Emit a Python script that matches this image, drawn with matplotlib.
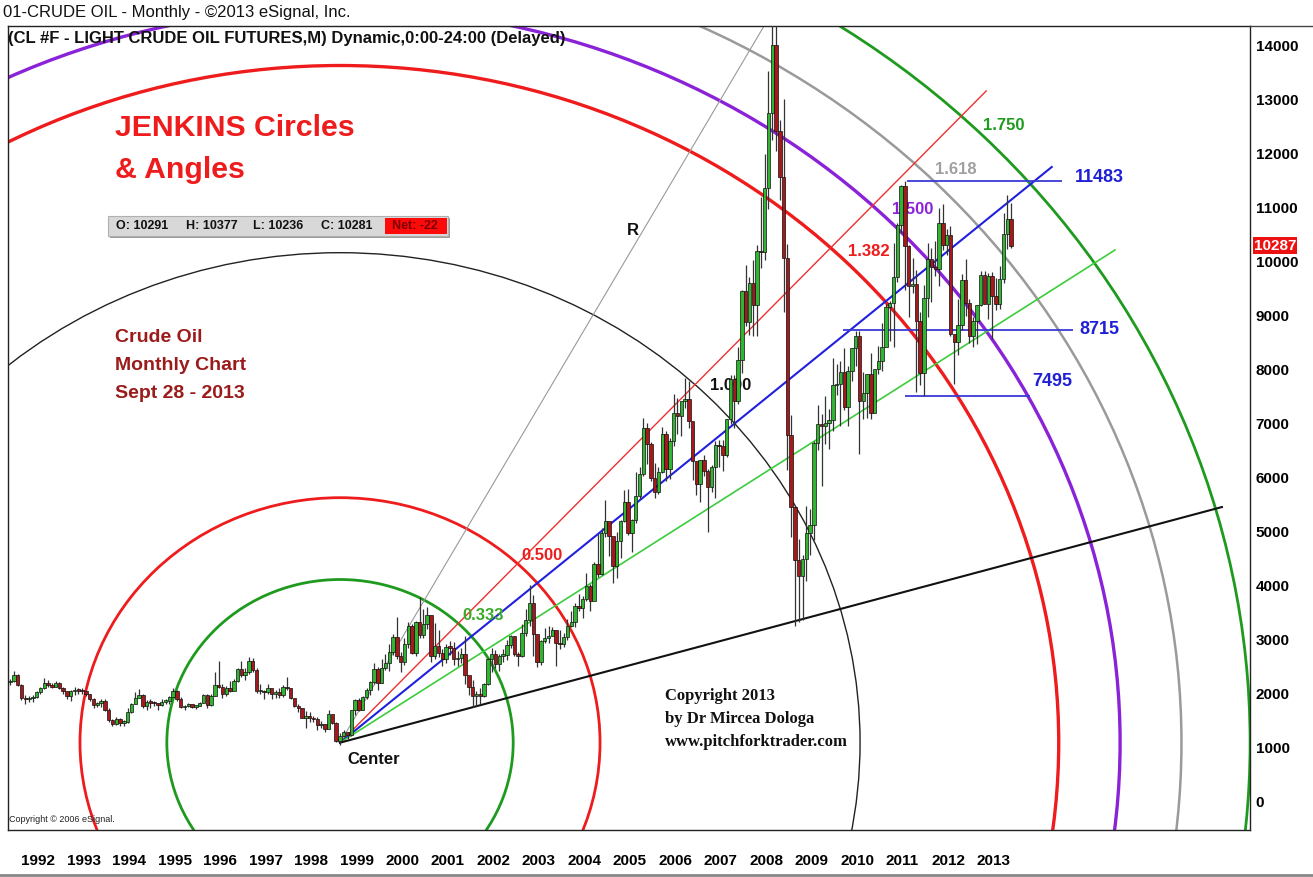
import matplotlib
matplotlib.use('Agg')
import matplotlib.pyplot as plt
from matplotlib.patches import Ellipse, Rectangle
from matplotlib.lines import Line2D
import matplotlib.transforms as mtransforms
import numpy as np

plt.rcParams['font.family'] = ['Liberation Sans', 'DejaVu Sans']

# ---- monthly CL continuous, Aug 1991 .. Sep 2013 (dollars) ----
first_year, first_month = 1991, 8
first_open = 21.6
closes = [
    22.0, 22.2, 23.3, 21.5, 19.1,                                        # 1991
    18.9, 19.0, 19.2, 20.2, 20.9, 21.8, 21.4, 21.2, 21.9, 21.0, 20.4, 19.5,  # 1992
    20.3, 20.6, 20.4, 20.3, 19.9, 18.9, 17.7, 18.1, 18.6, 16.9, 15.0, 14.2,  # 1993
    15.2, 14.5, 14.7, 16.4, 17.9, 19.1, 19.7, 17.6, 18.4, 18.2, 18.1, 17.8,  # 1994
    18.4, 18.5, 19.2, 20.4, 18.9, 17.4, 17.6, 18.0, 17.5, 17.6, 18.2, 19.6,  # 1995
    17.7, 19.5, 21.5, 21.2, 19.8, 20.9, 20.4, 22.3, 24.4, 23.4, 23.8, 25.9,  # 1996
    24.2, 20.3, 20.4, 20.2, 20.9, 19.8, 20.1, 19.6, 21.2, 20.9, 19.1, 17.6,  # 1997
    17.2, 15.4, 15.6, 15.4, 15.2, 14.0, 14.2, 13.4, 16.1, 14.4, 11.2, 12.1,  # 1998
    12.7, 12.3, 16.8, 18.7, 16.8, 19.3, 20.5, 22.1, 24.5, 21.8, 24.6, 25.6,  # 1999
    27.6, 30.4, 26.9, 25.7, 29.0, 32.5, 27.4, 33.1, 30.8, 32.7, 34.4, 26.8,  # 2000
    28.7, 27.4, 26.3, 28.5, 28.4, 26.3, 26.4, 27.2, 23.4, 21.2, 19.4, 19.8,  # 2001
    19.5, 21.7, 26.3, 27.3, 25.3, 26.9, 27.0, 28.9, 30.5, 27.2, 26.9, 31.2,  # 2002
    33.5, 36.6, 31.0, 25.8, 29.6, 30.2, 30.5, 31.6, 29.2, 29.1, 30.4, 32.5,  # 2003
    33.1, 36.2, 35.8, 37.4, 39.9, 37.1, 43.8, 42.1, 49.6, 51.8, 49.1, 43.5,  # 2004
    48.2, 51.8, 55.4, 49.7, 52.0, 56.5, 60.6, 69.0, 66.2, 59.8, 57.3, 61.0,  # 2005
    67.9, 61.4, 66.6, 71.9, 71.3, 74.0, 74.4, 70.3, 62.9, 58.7, 63.1, 61.1,  # 2006
    58.1, 61.8, 65.9, 65.7, 64.0, 70.7, 78.2, 74.0, 81.7, 94.5, 88.7, 96.0,  # 2007
    91.8, 101.8, 101.6, 113.5, 127.4, 140.0, 124.1, 115.5, 100.6, 67.8, 54.4, 44.6,  # 2008
    41.7, 44.8, 49.7, 51.1, 66.3, 69.9, 69.5, 70.0, 70.6, 77.0, 77.3, 79.4,  # 2009
    72.9, 79.7, 83.8, 86.2, 74.0, 75.6, 79.0, 71.9, 80.0, 81.4, 84.1, 91.4,  # 2010
    92.2, 97.0, 106.7, 113.9, 102.7, 95.4, 95.7, 88.8, 79.2, 93.2, 100.4, 98.8,  # 2011
    98.5, 107.1, 103.0, 104.9, 86.5, 85.0, 88.1, 96.5, 92.2, 86.2, 88.9, 91.8,  # 2012
    97.5, 92.1, 97.2, 93.5, 92.0, 96.6, 105.0, 107.7, 102.87,                # 2013
]
highs = [
    22.5, 22.6, 24.0, 23.5, 21.6,
    19.6, 19.5, 19.6, 20.4, 21.1, 22.7, 22.4, 21.8, 22.3, 22.0, 21.2, 20.0,
    20.5, 21.2, 20.9, 20.9, 20.3, 19.9, 19.1, 18.4, 18.9, 18.8, 17.2, 15.1,
    15.6, 15.4, 15.0, 17.2, 18.2, 20.1, 20.7, 19.9, 18.7, 18.9, 18.6, 18.1,
    18.9, 18.8, 19.4, 20.9, 20.5, 19.3, 17.7, 18.1, 18.0, 17.7, 18.4, 19.9,
    19.8, 19.8, 23.8, 25.9, 21.7, 21.3, 22.2, 22.6, 24.6, 25.9, 24.7, 26.6,
    26.5, 24.7, 21.6, 20.6, 21.7, 20.6, 20.5, 20.9, 21.4, 23.0, 21.0, 19.1,
    18.0, 17.2, 16.7, 16.4, 15.8, 15.5, 14.9, 14.3, 16.9, 16.1, 14.6, 12.6,
    13.1, 12.8, 16.9, 18.9, 19.0, 19.4, 21.0, 22.3, 25.6, 24.8, 26.3, 27.2,
    29.0, 31.0, 34.1, 27.6, 30.1, 33.1, 32.8, 33.4, 37.8, 35.6, 36.0, 34.4,
    33.0, 31.6, 28.1, 29.0, 29.6, 29.4, 27.7, 28.4, 30.5, 23.0, 22.5, 20.4,
    21.0, 21.9, 26.4, 28.4, 28.0, 27.2, 28.2, 29.9, 30.8, 30.6, 27.6, 32.7,
    35.6, 39.99, 38.1, 31.0, 29.9, 32.0, 32.4, 32.3, 31.6, 31.7, 31.2, 33.7,
    35.2, 36.6, 38.4, 38.0, 42.3, 40.2, 44.2, 49.4, 50.5, 55.7, 50.5, 46.3,
    49.9, 52.1, 57.6, 57.7, 52.2, 60.9, 61.9, 70.9, 70.0, 66.4, 62.6, 61.8,
    69.2, 68.6, 67.2, 75.4, 74.6, 74.0, 78.4, 77.8, 70.0, 62.9, 63.2, 64.0,
    61.5, 62.2, 66.7, 66.9, 66.8, 70.8, 78.8, 78.8, 84.1, 94.7, 99.3, 97.0,
    100.1, 103.0, 111.8, 119.9, 135.1, 143.7, 147.3, 126.2, 130.0, 103.1, 71.4, 54.6,
    48.6, 45.5, 54.7, 54.0, 66.7, 73.4, 71.6, 75.0, 72.6, 82.0, 81.0, 81.4,
    83.9, 80.5, 83.9, 87.1, 87.0, 79.5, 79.1, 82.9, 80.0, 84.2, 88.6, 92.0,
    92.6, 103.4, 107.0, 114.0, 114.8, 103.0, 100.6, 98.4, 90.5, 95.5, 103.4, 102.4,
    103.7, 109.8, 110.6, 106.0, 106.4, 85.9, 92.9, 97.6, 100.4, 93.0, 89.7, 91.8,
    98.2, 98.2, 97.8, 97.9, 96.9, 99.0, 108.9, 112.2, 110.7,
]
lows = [
    20.9, 21.4, 22.0, 21.3, 18.7,
    17.9, 18.3, 18.4, 19.0, 19.9, 20.8, 21.2, 20.9, 21.1, 20.7, 19.9, 18.9,
    18.5, 19.6, 19.9, 19.9, 19.5, 18.6, 17.2, 17.4, 17.5, 16.6, 14.7, 13.9,
    14.1, 13.9, 13.9, 14.5, 16.3, 17.9, 19.2, 17.2, 16.9, 17.3, 17.6, 16.9,
    17.6, 18.0, 17.9, 19.2, 18.6, 17.2, 16.9, 17.4, 17.3, 17.1, 17.6, 18.2,
    17.2, 17.6, 19.5, 20.9, 19.1, 19.4, 20.2, 20.5, 22.0, 23.0, 22.5, 23.5,
    23.9, 20.0, 19.9, 18.9, 19.8, 18.8, 19.1, 19.1, 19.3, 20.6, 18.9, 17.4,
    16.4, 15.3, 13.5, 14.7, 14.6, 13.2, 13.5, 12.8, 13.3, 14.2, 11.0, 10.4,
    11.9, 11.4, 12.1, 15.9, 16.7, 16.8, 18.8, 19.6, 21.6, 20.6, 21.8, 24.2,
    24.0, 27.1, 26.3, 23.9, 25.2, 28.3, 27.2, 26.9, 30.1, 30.1, 31.9, 25.7,
    26.3, 26.6, 25.0, 25.6, 27.1, 25.2, 25.0, 25.6, 21.7, 19.6, 17.5, 17.6,
    17.9, 19.3, 21.4, 23.8, 24.7, 24.0, 25.7, 26.1, 28.3, 26.8, 25.0, 26.6,
    30.5, 32.5, 26.9, 24.9, 25.1, 29.2, 29.2, 30.6, 25.0, 28.2, 28.6, 29.8,
    32.2, 32.3, 35.1, 33.9, 37.1, 35.1, 37.6, 41.5, 41.9, 48.9, 45.3, 40.3,
    41.3, 45.0, 51.6, 49.3, 46.2, 51.5, 55.9, 60.1, 62.4, 59.3, 56.1, 56.8,
    60.8, 59.2, 59.6, 65.8, 68.0, 67.6, 72.7, 69.1, 59.5, 56.6, 55.3, 60.1,
    49.9, 57.2, 56.1, 61.9, 61.2, 63.7, 69.8, 69.1, 73.5, 79.2, 88.0, 86.3,
    86.1, 86.1, 98.7, 100.1, 109.6, 122.5, 120.4, 111.3, 90.5, 61.3, 48.8, 32.4,
    33.2, 33.6, 40.8, 45.6, 48.3, 65.0, 58.3, 66.2, 65.1, 68.6, 75.2, 69.5,
    72.4, 69.5, 77.8, 80.6, 64.2, 70.8, 71.0, 70.8, 72.6, 79.1, 79.6, 84.8,
    85.1, 84.1, 96.2, 105.2, 94.6, 89.7, 94.0, 75.7, 77.1, 75.0, 89.7, 92.5,
    97.3, 95.4, 102.1, 101.1, 86.2, 77.3, 82.6, 87.2, 89.9, 84.8, 84.1, 84.7,
    91.7, 92.0, 89.3, 85.6, 91.0, 91.1, 96.0, 102.2, 102.4,
]

# Jenkins construction (center at Dec 1998 low)
center_t, center_v = 1998.917, 1080
radius_t, radius_v = 11.43, 9074          # R in years / price units
circle_ratios = [0.333, 0.5, 1.0, 1.382, 1.5, 1.618, 1.75]
circle_colors = ['#1e9a1e', '#ee1c1c', '#222222', '#ee1c1c', '#8a22d8', '#9a9a9a', '#1e9a1e']
circle_widths = [2.0, 2.0, 1.0, 2.4, 2.4, 1.8, 2.0]

angle_end_t = [2008.5, 2013.12, 2014.56, 2015.95, 2018.3]
angle_end_v = [14727, 13150, 11741, 10204, 5444]
angle_colors = ['#999999', '#ee3030', '#2020dd', '#3ccc3c', '#111111']
angle_widths = [0.8, 1.0, 1.5, 1.2, 1.5]

levels = [11483, 8715, 7495]
level_t0 = [2011.38, 2009.97, 2011.33]
level_t1 = [2014.78, 2015.03, 2014.08]

last_price = 10287
year_labels = list(range(1992, 2014))

# ---- build candles ----
n = len(closes)
t = np.array([first_year + (first_month - 1 + i) / 12.0 for i in range(n)])
c = np.array(closes) * 100
h = np.array(highs) * 100
l = np.array(lows) * 100
o = np.concatenate([[first_open * 100], c[:-1]])

W, H = 1313, 877
fig = plt.figure(figsize=(W / 100, H / 100), dpi=100)
fig.patch.set_facecolor('white')

def P(px, py):
    return (px / W, 1 - py / H)

ax = fig.add_axes([8 / W, 47 / H, 1242 / W, 804 / H])
ax.set_xlim(1991.62, 2018.917)
ax.set_ylim(-537, 14352)

# circles
for r, col, lw in zip(circle_ratios, circle_colors, circle_widths):
    ax.add_patch(Ellipse((center_t, center_v), 2 * r * radius_t, 2 * r * radius_v,
                         fill=False, ec=col, lw=lw, zorder=2))

# angles
for te, ve, col, lw in zip(angle_end_t, angle_end_v, angle_colors, angle_widths):
    ax.plot([center_t, te], [center_v, ve], color=col, lw=lw, zorder=2)

# horizontal levels
ax.hlines(levels, level_t0, level_t1, color='#3a3ad6', lw=1.3, zorder=2)

# candles
ax.vlines(t, l, h, color='#333333', lw=0.9, zorder=3)
up = c >= o
body_bot = np.minimum(o, c)
body_h = np.maximum(np.abs(c - o), 25)
ax.bar(t[up], body_h[up], bottom=body_bot[up], width=0.075, color='#2fb52f',
       edgecolor='#111111', linewidth=0.5, zorder=4)
ax.bar(t[~up], body_h[~up], bottom=body_bot[~up], width=0.075, color='#a5181c',
       edgecolor='#111111', linewidth=0.5, zorder=4)

# axes styling
for s in ax.spines.values():
    s.set_color('#222222')
    s.set_linewidth(1.0)
ax.yaxis.tick_right()
ax.set_yticks(range(0, 14001, 1000))
ax.set_yticklabels([str(v) for v in range(0, 14001, 1000)], fontsize=11, fontweight='bold')
ax.tick_params(axis='y', length=0, pad=4)
ax.set_xticks([y + 0.28 for y in year_labels])
ax.set_xticklabels([str(y) for y in year_labels], fontsize=11, fontweight='bold')
ax.tick_params(axis='x', length=0, pad=17)

# last price tag
trans = mtransforms.blended_transform_factory(ax.transAxes, ax.transData)
ax.text(1.003, last_price, str(last_price), transform=trans, ha='left', va='center',
        fontsize=11, fontweight='bold', color='white', zorder=6, clip_on=False,
        bbox=dict(boxstyle='square,pad=0.08', fc='#ee1111', ec='none'))

# level / ratio labels
def lab(px, py, s, col, size=12, ha='left'):
    ax.text(*P(px, py), s, transform=fig.transFigure, color=col, fontsize=size,
            fontweight='bold', ha=ha, va='center', zorder=3.5)

lab(983, 125, '1.750', '#1e9a1e')
lab(935, 170, '1.618', '#a0a0a0')
lab(892, 210, '1.500', '#8a22d8')
lab(848, 251, '1.382', '#ee1c1c')
lab(710, 385, '1.000', '#111111')
lab(521, 555, '0.500', '#ee1c1c')
lab(462, 615, '0.333', '#3aaa2a')
lab(1075, 178, '11483', '#1f1fd6', 13)
lab(1079, 330, '8715', '#1f1fd6', 13)
lab(1032, 382, '7495', '#1f1fd6', 13)
lab(627, 230, 'R', '#111111', 12)
lab(347, 760, 'Center', '#111111', 12)

# big headline
fig.text(*P(115, 128), 'JENKINS Circles', color='#ee1c1c', fontsize=21.8, fontweight='bold', va='center')
fig.text(*P(115, 170), '& Angles', color='#ee1c1c', fontsize=21.8, fontweight='bold', va='center')
for yy, s in zip([337, 365, 393], ['Crude Oil', 'Monthly Chart', 'Sept 28 - 2013']):
    fig.text(*P(115, yy), s, color='#9b1b1b', fontsize=14, fontweight='bold', va='center')

# copyright block
for yy, s in zip([696, 719, 742], ['Copyright 2013', 'by Dr Mircea Dologa', 'www.pitchforktrader.com']):
    fig.text(*P(665, yy), s, family='Liberation Serif', color='#111111', fontsize=12,
             fontweight='bold', va='center')
fig.text(*P(9, 820), 'Copyright \u00a9 2006 eSignal.', fontsize=6.5, color='#222222', va='center')

# OHLC box
fig.patches.append(Rectangle(P(110, 238), 340 / W, 20 / H, transform=fig.transFigure,
                             fc='#9a9a9a', ec='none', zorder=4))
fig.patches.append(Rectangle(P(108, 236), 340 / W, 20 / H, transform=fig.transFigure,
                             fc='#d8d8d8', ec='#b0b0b0', lw=0.8, zorder=5))
fig.patches.append(Rectangle(P(385, 234), 62 / W, 16 / H, transform=fig.transFigure,
                             fc='#ff0a0a', ec='none', zorder=6))
for xx, s in zip([116, 186, 253, 321], ['O: 10291', 'H: 10377', 'L: 10236', 'C: 10281']):
    fig.text(*P(xx, 226), s, fontsize=9, fontweight='bold', color='#111111', va='center', zorder=7)
fig.text(*P(392, 226), 'Net: -22', fontsize=9, fontweight='bold', color='#7a0000', va='center', zorder=7)

# header lines
fig.text(*P(3, 12), '01-CRUDE OIL - Monthly - \u00a92013 eSignal, Inc.', fontsize=12, color='#111111', va='center')
fig.text(*P(8, 38), '(CL #F - LIGHT CRUDE OIL FUTURES,M) Dynamic,0:00-24:00 (Delayed)',
         fontsize=12, fontweight='bold', color='#111111', va='center', zorder=6)

# frame extras
fig.add_artist(Line2D([1250 / W, 1], [1 - 26 / H, 1 - 26 / H], transform=fig.transFigure, color='#444444', lw=1))
fig.add_artist(Line2D([0, 1], [1 - 875 / H, 1 - 875 / H], transform=fig.transFigure, color='#888888', lw=2))

fig.savefig('out.png', dpi=100, facecolor='white')
